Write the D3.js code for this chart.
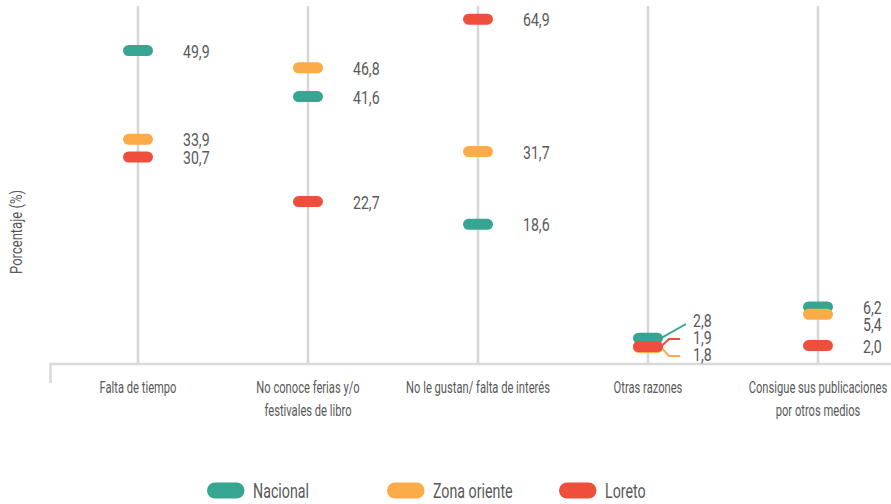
<!DOCTYPE html>
<html><head><meta charset="utf-8">
<script src="https://cdn.jsdelivr.net/npm/d3@7"></script>
<style>
body{margin:0;background:#fff;}
svg{display:block;}
text{font-family:Roboto,"Noto Sans",sans-serif;fill:#595959;}
</style>
</head><body>
<svg id="c" width="891" height="504"></svg>
<script>
// ---- data ----
const categories = ["Falta de tiempo","No conoce ferias y/o festivales de libro","No le gustan/ falta de interés","Otras razones","Consigue sus publicaciones por otros medios"];
const categoryLines = [["Falta de tiempo"],["No conoce ferias y/o","festivales de libro"],["No le gustan/ falta de interés"],["Otras razones"],["Consigue sus publicaciones","por otros medios"]];
const seriesNames = ["Nacional","Zona oriente","Loreto"];
const nacional    = [49.9, 41.6, 18.6, 2.8, 6.2];
const zonaOriente = [33.9, 46.8, 31.7, 1.8, 5.4];
const loreto      = [30.7, 22.7, 64.9, 1.9, 2.0];
const yTitle = "Porcentaje (%)";

// ---- styles ----
const colors = ["#36a693","#fbac49","#ef4e3d"];
const seriesValues = [nacional, zonaOriente, loreto];
const W = 891, H = 504;
const axisY = 364;
const grid = "#d6d6d6";

const svg = d3.select("#c");
const x = d3.scaleBand().domain(categories).range([53, 903]).padding(0);
const cx = c => x(c) + x.bandwidth()/2;
const y = d3.scaleLinear().domain([0, 10, 50, 65]).range([axisY, 272, 50, 19]);
const loc = d3.formatLocale({decimal: ",", thousands: ".", grouping: [3], currency: ["", ""]});
const fmt = loc.format(".1f");

// condensed-look calibration: horizontal scale so a sample string reaches a target width
function measure(str, size){
  const t = svg.append("text").attr("font-size", size).text(str);
  const w = t.node().getComputedTextLength(); t.remove(); return w;
}
const sxCat = 77 / measure("Falta de tiempo", 16);
const sxVal = 26.6 / measure("49,9", 19);
const sxLeg = 56 / measure("Nacional", 21);
const sxTitle = 84 / measure(yTitle, 16);

function ctext(g, str, tx, ty, sx, size, anchor){
  return g.append("text")
    .attr("transform", `translate(${tx},${ty}) scale(${sx},1)`)
    .attr("text-anchor", anchor || "start")
    .attr("font-size", size)
    .text(str);
}

// vertical lines
svg.append("g").selectAll("line").data(categories).join("line")
  .attr("x1", cx).attr("x2", cx).attr("y1", 6).attr("y2", axisY)
  .attr("stroke", grid).attr("stroke-width", 2.5);

// axis
svg.append("path")
  .attr("d", `M50.5,383 V${axisY} H${W}`)
  .attr("fill", "none").attr("stroke", "#d9d9d9").attr("stroke-width", 2.5);

// category labels
const cl = svg.append("g");
categories.forEach((c, i) => {
  categoryLines[i].forEach((ln, j) => {
    ctext(cl, ln, cx(c), 393 + j*23, sxCat, 16, "middle");
  });
});

// y title
svg.append("text")
  .attr("transform", `translate(22,232) rotate(-90) scale(${sxTitle},1)`)
  .attr("text-anchor", "middle").attr("font-size", 16)
  .text(yTitle);

// points + labels
const items = [];
categories.forEach((c, ci) => {
  seriesNames.forEach((s, si) => {
    items.push({c, ci, si, v: seriesValues[si][ci], ym: y(seriesValues[si][ci])});
  });
});
// label collision avoidance per category
const gap = 17, maxY = 354;
d3.groups(items, d => d.ci).forEach(([ci, arr]) => {
  arr.sort((a, b) => a.ym - b.ym);
  arr.forEach((d, i) => { d.yl = i === 0 ? d.ym : Math.max(d.ym, arr[i-1].yl + gap); });
  if (arr[arr.length-1].yl > maxY) {
    arr[arr.length-1].yl = maxY;
    for (let i = arr.length-2; i >= 0; i--) arr[i].yl = Math.min(arr[i].yl, arr[i+1].yl - gap);
  }
  const maxShift = d3.max(arr, d => Math.abs(d.yl - d.ym));
  arr.forEach(d => { d.leader = maxShift > 15 && Math.abs(d.yl - d.ym) > 2; });
});

const mw = 30, mh = 11, lx = 45;
const gp = svg.append("g");
const ordered = items.slice().sort((a, b) => a.si - b.si);
gp.selectAll("path.leader").data(ordered.filter(d => d.leader)).join("path")
  .attr("class", "leader")
  .attr("d", d => {
    const x0 = cx(d.c) + mw/2 - 2, xl = cx(d.c) + lx;
    if (Math.abs(d.yl - d.ym) > 14) return `M${x0},${d.ym} L${xl-7},${d.yl + 4}`;
    return `M${x0},${d.ym} L${x0+8},${d.yl + 2} L${xl-13},${d.yl + 2}`;
  })
  .attr("fill", "none").attr("stroke", d => colors[d.si]).attr("stroke-width", 2);
gp.selectAll("rect").data(ordered).join("rect")
  .attr("x", d => cx(d.c) - mw/2).attr("y", d => d.ym - mh/2)
  .attr("width", mw).attr("height", mh).attr("rx", mh/2)
  .attr("fill", d => colors[d.si]);
const gl = svg.append("g");
items.forEach(d => {
  ctext(gl, fmt(d.v), cx(d.c) + lx, d.yl + 7, sxVal, 19, "start");
});

// legend
const lg = svg.append("g");
const legendX = [207, 387, 559];
seriesNames.forEach((s, i) => {
  lg.append("rect").attr("x", legendX[i]).attr("y", 482.5).attr("width", 37.5).attr("height", 16)
    .attr("rx", 8).attr("fill", colors[i]);
  ctext(lg, s, legendX[i] + 46, 498, sxLeg, 21, "start");
});
</script>
</body></html>
